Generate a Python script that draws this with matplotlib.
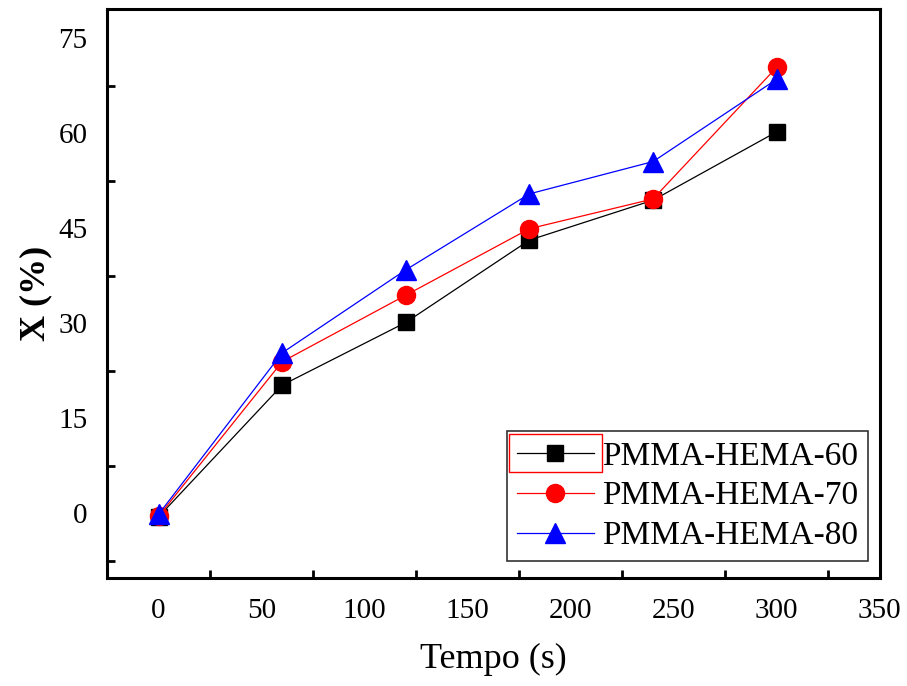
import matplotlib
matplotlib.use("Agg")
import matplotlib.pyplot as plt
from matplotlib.patches import Rectangle
from matplotlib.ticker import MultipleLocator, FixedLocator

plt.rcParams["font.family"] = ["Liberation Serif", "DejaVu Serif"]

tempo = [0, 60, 120, 180, 240, 300]
x_60 = [-0.6, 20.2, 30.1, 43.1, 49.4, 60.2]
x_70 = [-0.5, 23.9, 34.4, 44.9, 49.6, 70.4]
x_80 = [-0.2, 25.3, 38.4, 50.4, 55.5, 68.5]

labels = ["PMMA-HEMA-60", "PMMA-HEMA-70", "PMMA-HEMA-80"]

fig = plt.figure(figsize=(9.07, 6.86), dpi=100)
ax = fig.add_axes([0.118, 0.157, 0.852, 0.830])

ax.plot(tempo, x_60, color="black", lw=0.9, marker="s", ms=12,
        mfc="black", mec="black", label=labels[0])
ax.plot(tempo, x_70, color="red", lw=0.9, marker="o", ms=13,
        mfc="red", mec="red", label=labels[1])
ax.plot(tempo, x_80, color="blue", lw=0.9, marker="^", ms=14,
        mfc="blue", mec="blue", label=labels[2])

ax.set_xlim(-25, 350)
ax.set_ylim(-10.3, 79.6)

# labels at major positions, tick marks only halfway between them
ax.xaxis.set_major_locator(MultipleLocator(50))
ax.yaxis.set_major_locator(MultipleLocator(15))
ax.xaxis.set_minor_locator(FixedLocator([25, 75, 125, 175, 225, 275, 325]))
ax.yaxis.set_minor_locator(FixedLocator([-7.5, 7.5, 22.5, 37.5, 52.5, 67.5]))
ax.tick_params(which="major", length=0, labelsize=21, pad=14)
ax.tick_params(which="minor", direction="in", length=6, width=2)

for sp in ax.spines.values():
    sp.set_linewidth(2.2)

ax.set_xlabel("Tempo (s)", fontsize=26, labelpad=14)
ax.set_ylabel("X (%)", fontsize=26, fontweight="bold", labelpad=4)

leg = ax.legend(loc="lower right", bbox_to_anchor=(0.985, 0.03),
                fontsize=24, frameon=True, fancybox=False,
                edgecolor="black", handlelength=2.3, handletextpad=0.25,
                labelspacing=0.28, borderpad=0.3, borderaxespad=0.0)
leg.get_frame().set_linewidth(1.2)

# red selection box around the first legend entry
fig.canvas.draw()
bb = leg.legend_handles[0].get_window_extent()
h = 38
fig.patches.append(Rectangle((bb.x0, (bb.y0 + bb.y1) / 2 - h / 2), bb.width, h,
                             transform=None, fill=False, ec="red", lw=1.0))

fig.savefig("out.png", dpi=100)
